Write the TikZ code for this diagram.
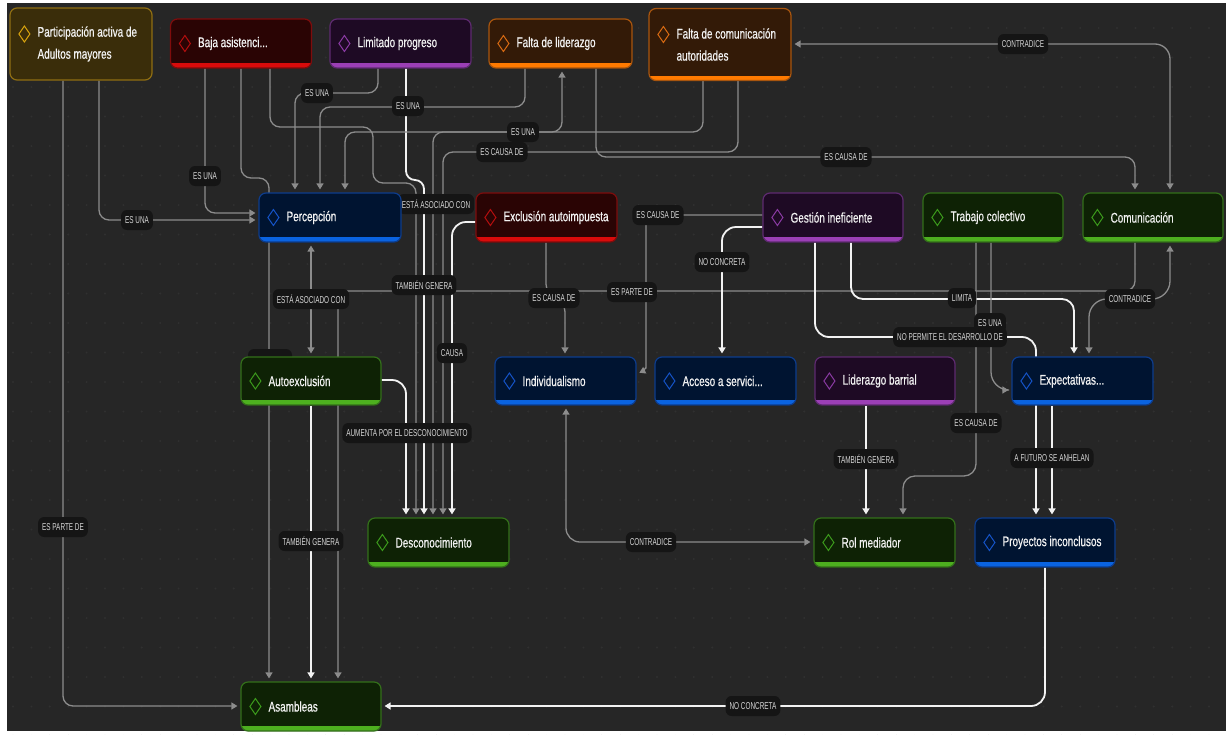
\documentclass[tikz,border=0pt]{standalone}
\usepackage{fontspec}
\newfontfamily\nfont[FakeStretch=0.71,FakeBold=0.6]{Liberation Sans}
\newfontfamily\lfont[FakeStretch=0.64]{Liberation Sans}
\usetikzlibrary{arrows.meta,calc}
\pgfdeclarelayer{bg}\pgfdeclarelayer{edges}\pgfdeclarelayer{elabels}
\pgfsetlayers{bg,edges,elabels,main}
\definecolor{bgc}{HTML}{262626}
\definecolor{dotc}{HTML}{303030}
\definecolor{lgray}{HTML}{8C8C8C}
\definecolor{lwhite}{HTML}{F2F2F2}
\definecolor{labfill}{HTML}{151515}
\definecolor{labtext}{HTML}{D6D6D6}
\definecolor{ntc}{HTML}{F2F2F2}
\definecolor{yfill}{HTML}{3A2D0A}\definecolor{yborder}{HTML}{8F6E12}\definecolor{ybar}{HTML}{F2B705}\definecolor{yicon}{HTML}{D9A40E}
\definecolor{rfill}{HTML}{2A0404}\definecolor{rborder}{HTML}{7E0C0C}\definecolor{rbar}{HTML}{D90B0B}\definecolor{ricon}{HTML}{B30E0E}
\definecolor{pfill}{HTML}{1E0A24}\definecolor{pborder}{HTML}{5E2A70}\definecolor{pbar}{HTML}{9B3FB5}\definecolor{picon}{HTML}{8A3AA3}
\definecolor{ofill}{HTML}{331A07}\definecolor{oborder}{HTML}{A8550E}\definecolor{obar}{HTML}{FF7A00}\definecolor{oicon}{HTML}{D86A12}
\definecolor{bfill}{HTML}{001431}\definecolor{bborder}{HTML}{0D3C8C}\definecolor{bbar}{HTML}{0A63E0}\definecolor{bicon}{HTML}{1553C7}
\definecolor{gfill}{HTML}{0E2205}\definecolor{gborder}{HTML}{33701A}\definecolor{gbar}{HTML}{4DAF1F}\definecolor{gicon}{HTML}{3C9A1C}
\tikzset{
 cbox/.style={rectangle, rounded corners=7pt, minimum width=141pt, minimum height=49pt, line width=1.2pt, inner sep=0pt},
 theme/.style n args={3}{cbox, fill=#1, draw=#2, path picture={\fill[#3, sharp corners] ([yshift=5pt]path picture bounding box.south west) rectangle (path picture bounding box.south east);}},
 tY/.style={theme={yfill}{yborder}{ybar}},
 tR/.style={theme={rfill}{rborder}{rbar}},
 tP/.style={theme={pfill}{pborder}{pbar}},
 tO/.style={theme={ofill}{oborder}{obar}},
 tB/.style={theme={bfill}{bborder}{bbar}},
 tG/.style={theme={gfill}{gborder}{gbar}},
 tall/.style={minimum height=72pt},
 ntext/.style={text=ntc, font=\nfont\fontsize{14}{22}\selectfont, inner sep=0pt, align=left, anchor=west},
 elab/.style={fill=labfill, text=labtext, rounded corners=6pt, inner xsep=4pt, inner ysep=0pt, minimum height=20pt, font=\lfont\fontsize{10}{12}\selectfont},
 >={Triangle[length=6pt,width=7pt]},
 gline/.style={draw=lgray, line width=1.3pt, rounded corners=10pt, ->, shorten >=3pt},
 gboth/.style={gline, <->, shorten <=3pt},
 wline/.style={draw=lwhite, line width=1.8pt, rounded corners=10pt, ->, shorten >=3pt},
 dia/.style={line width=1pt, line join=miter},
}
\newcommand\dmd[3]{\draw[#3, dia] ([xshift=15pt,yshift=#2]#1.west) ++(0pt,8pt) -- ++(5.5pt,-8pt) -- ++(-5.5pt,-8pt) -- ++(-5.5pt,8pt) -- cycle;}
\begin{document}
\begin{tikzpicture}[x=1pt,y=-1pt]
\useasboundingbox (0,0) rectangle (1226,734);
\begin{pgfonlayer}{bg}
\fill[white] (0,0) rectangle (1226,734);
\fill[bgc] (7,3) rectangle (1226,731);
\foreach \i in {0,...,65} {
  \foreach \j in {0,...,24} {
    \fill[dotc] (13+18.4*\i, 28+29.5*\j) circle (1.1pt);
  }
}
\end{pgfonlayer}

% ---------- nodes ----------
\node[tY, tall, minimum width=142pt] (part) at (81,44) {};
\node[ntext] (part-t) at ([xshift=28pt]part.west) {Participación activa de\\Adultos mayores};
\dmd{part}{10pt}{yicon}
\node[tR] (baja) at (241,43.5) {};
\node[ntext] (baja-t) at ([xshift=28pt]baja.west) {Baja asistenci...};
\dmd{baja}{0pt}{ricon}
\node[tP] (limit) at (400.5,43.5) {};
\node[ntext] (limit-t) at ([xshift=28pt]limit.west) {Limitado progreso};
\dmd{limit}{0pt}{picon}
\node[tO, minimum width=143pt] (flider) at (560.5,43.5) {};
\node[ntext] (flider-t) at ([xshift=28pt]flider.west) {Falta de liderazgo};
\dmd{flider}{0pt}{oicon}
\node[tO, tall, minimum width=142pt] (fcom) at (720,44.5) {};
\node[ntext] (fcom-t) at ([xshift=28pt]fcom.west) {Falta de comunicación\\autoridades};
\dmd{fcom}{10pt}{oicon}

\node[tB, minimum width=142pt] (percep) at (330,217.5) {};
\node[ntext] (percep-t) at ([xshift=28pt]percep.west) {Percepción};
\dmd{percep}{0pt}{bicon}
\node[tR] (excl) at (546.5,217.5) {};
\node[ntext] (excl-t) at ([xshift=28pt]excl.west) {Exclusión autoimpuesta};
\dmd{excl}{0pt}{ricon}
\node[tP, minimum width=140pt] (gest) at (833,217.5) {};
\node[ntext] (gest-t) at ([xshift=28pt]gest.west) {Gestión ineficiente};
\dmd{gest}{0pt}{picon}
\node[tG, minimum width=140pt] (trab) at (993,217.5) {};
\node[ntext] (trab-t) at ([xshift=28pt]trab.west) {Trabajo colectivo};
\dmd{trab}{0pt}{gicon}
\node[tG, minimum width=140pt] (comun) at (1153,217.5) {};
\node[ntext] (comun-t) at ([xshift=28pt]comun.west) {Comunicación};
\dmd{comun}{0pt}{gicon}

\node[tG, minimum width=140pt, minimum height=48pt] (autoex) at (311,381) {};
\node[ntext] (autoex-t) at ([xshift=28pt]autoex.west) {Autoexclusión};
\dmd{autoex}{0pt}{gicon}
\node[tB, minimum height=48pt] (indiv) at (565.5,381) {};
\node[ntext] (indiv-t) at ([xshift=28pt]indiv.west) {Individualismo};
\dmd{indiv}{0pt}{bicon}
\node[tB, minimum height=48pt] (acceso) at (725.5,381) {};
\node[ntext] (acceso-t) at ([xshift=28pt]acceso.west) {Acceso a servici...};
\dmd{acceso}{0pt}{bicon}
\node[tP, minimum width=140pt, minimum height=48pt] (lidb) at (885,381) {};
\node[ntext] (lidb-t) at ([xshift=28pt]lidb.west) {Liderazgo barrial};
\dmd{lidb}{0pt}{picon}
\node[tB, minimum height=48pt] (expect) at (1082.5,381) {};
\node[ntext] (expect-t) at ([xshift=28pt]expect.west) {Expectativas...};
\dmd{expect}{0pt}{bicon}

\node[tG] (desc) at (438.5,542.5) {};
\node[ntext] (desc-t) at ([xshift=28pt]desc.west) {Desconocimiento};
\dmd{desc}{0pt}{gicon}
\node[tG] (rol) at (884.5,542.5) {};
\node[ntext] (rol-t) at ([xshift=28pt]rol.west) {Rol mediador};
\dmd{rol}{0pt}{gicon}
\node[tB, minimum width=140pt] (proy) at (1045,542.5) {};
\node[ntext] (proy-t) at ([xshift=28pt]proy.west) {Proyectos inconclusos};
\dmd{proy}{0pt}{bicon}
\node[tG, minimum width=140pt] (asamb) at (311,706.5) {};
\node[ntext] (asamb-t) at ([xshift=28pt]asamb.west) {Asambleas};
\dmd{asamb}{0pt}{gicon}

% ---------- connectors ----------
\begin{pgfonlayer}{edges}
\draw[gline] (part.south -| 99,0) -- (99,220) -- (percep.west |- 0,220);
\draw[gline] (part.south -| 63,0) -- (63,706) -- (asamb.west |- 0,706);
\draw[gline] (baja.south -| 205,0) -- (205,213) -- (percep.west |- 0,213);
\draw[gline] (baja.south -| 241,0) -- (241,178) -- (269,178) -- (asamb.north -| 269,0);
\draw[gline] (baja.south -| 270,0) -- (270,127) -- (373,127) -- (373,183) -- (416,183) -- (desc.north -| 416,0);
\draw[gline] (limit.south -| 378,0) -- (378,93) -- (295,93) -- (percep.north -| 295,0);
\draw[wline, rounded corners=9pt] (limit.south -| 406,0) -- (406,180) -- (424,180) -- (desc.north -| 424,0);
\draw[gline] (flider.south -| 525,0) -- (525,107) -- (320,107) -- (percep.north -| 320,0);
\draw[gline] (fcom.south -| 703,0) -- (703,132) -- (345,132) -- (percep.north -| 345,0);
\draw[gboth] (desc.north -| 433,0) -- (433,132) -- (562,132) -- (flider.south -| 562,0);
\draw[gline] (fcom.south -| 738,0) -- (738,152) -- (443,152) -- (desc.north -| 443,0);
\draw[gline] (flider.south -| 596,0) -- (596,157) -- (1135,157) -- (comun.north -| 1135,0);
\draw[gboth, rounded corners=15pt] (comun.north -| 1170,0) -- (1170,44) -- (fcom.east |- 0,44);
\draw[wline, rounded corners=14pt] (autoex.east |- 0,380) -- (406,380) -- (desc.north -| 406,0);
\draw[wline, rounded corners=14pt] (excl.west |- 0,222) -- (452,222) -- (desc.north -| 452,0);
\draw[gboth] (percep.south -| 311,0) -- (autoex.north -| 311,0);
\draw[gline] (comun.south -| 1135,0) -- (1135,291) -- (338,291) -- (asamb.north -| 338,0);
\draw[gline, rounded corners=8pt] (excl.south -| 546,0) -- (546,292) -- (565,304) -- (indiv.north -| 565,0);
\draw[gline] (gest.west |- 0,215) -- (646,215) -- (646,358) .. controls (646,367) and (643,371) .. (indiv.east |- 0,374);
\draw[wline, rounded corners=14pt] (gest.west |- 0,227) -- (722,227) -- (acceso.north -| 722,0);
\draw[wline, rounded corners=14pt] (gest.south -| 815,0) -- (815,337) -- (1036,337) -- (proy.north -| 1036,0);
\draw[wline, rounded corners=12pt] (gest.south -| 851,0) -- (851,299) -- (1074,299) -- (expect.north -| 1074,0);
\draw[gline, rounded corners=18pt] (trab.south -| 991,0) -- (991,390) -- (expect.west |- 0,390);
\draw[gline, rounded corners=12pt] (trab.south -| 976,0) -- (976,476) -- (903,476) -- (rol.north -| 903,0);
\draw[gboth, rounded corners=18pt] (comun.south -| 1170,0) -- (1170,299) -- (1089,299) -- (expect.north -| 1089,0);
\draw[wline] (lidb.south -| 866,0) -- (rol.north -| 866,0);
\draw[wline] (expect.south -| 1052,0) -- (proy.north -| 1052,0);
\draw[gboth, rounded corners=14pt] (indiv.south -| 566,0) -- (566,542) -- (rol.west |- 0,542);
\draw[wline, rounded corners=14pt] (proy.south -| 1045,0) -- (1045,706) -- (asamb.east |- 0,706);
\draw[wline] (autoex.south -| 311,0) -- (asamb.north -| 311,0);
\end{pgfonlayer}

% ---------- connector labels ----------
\begin{pgfonlayer}{elabels}
\node[elab, minimum width=44pt] (l-hid) at (270,359) {};
\node[elab] (l1) at (137,220) {ES UNA};
\node[elab] (l2) at (63,527) {ES PARTE DE};
\node[elab] (l3) at (205,176) {ES UNA};
\node[elab] (l4) at (436,204) {ESTÁ ASOCIADO CON};
\node[elab] (l5) at (317,93) {ES UNA};
\node[elab] (l6) at (408,106) {ES UNA};
\node[elab] (l7) at (523,132) {ES UNA};
\node[elab] (l8) at (502,152) {ES CAUSA DE};
\node[elab] (l9) at (846,157) {ES CAUSA DE};
\node[elab] (l10) at (1023,44) {CONTRADICE};
\node[elab] (l11) at (407,433) {AUMENTA POR EL DESCONOCIMIENTO};
\node[elab] (l12) at (452,353) {CAUSA};
\node[elab] (l13) at (311,299) {ESTÁ ASOCIADO CON};
\node[elab] (l14) at (424,285) {TAMBIÉN GENERA};
\node[elab] (l15) at (632,292) {ES PARTE DE};
\node[elab] (l16) at (554,298) {ES CAUSA DE};
\node[elab] (l17) at (658,215) {ES CAUSA DE};
\node[elab] (l18) at (722,262) {NO CONCRETA};
\node[elab] (l19) at (990,323) {ES UNA};
\node[elab] (l20) at (950,337) {NO PERMITE EL DESARROLLO DE};
\node[elab] (l21) at (962,298) {LIMITA};
\node[elab] (l22) at (976,423) {ES CAUSA DE};
\node[elab] (l23) at (1130,299) {CONTRADICE};
\node[elab] (l24) at (866,459) {TAMBIÉN GENERA};
\node[elab] (l25) at (1052,458) {A FUTURO SE ANHELAN};
\node[elab] (l26) at (651,542) {CONTRADICE};
\node[elab] (l27) at (753,706) {NO CONCRETA};
\node[elab] (l28) at (311,541) {TAMBIÉN GENERA};
\end{pgfonlayer}
\end{tikzpicture}
\end{document}
